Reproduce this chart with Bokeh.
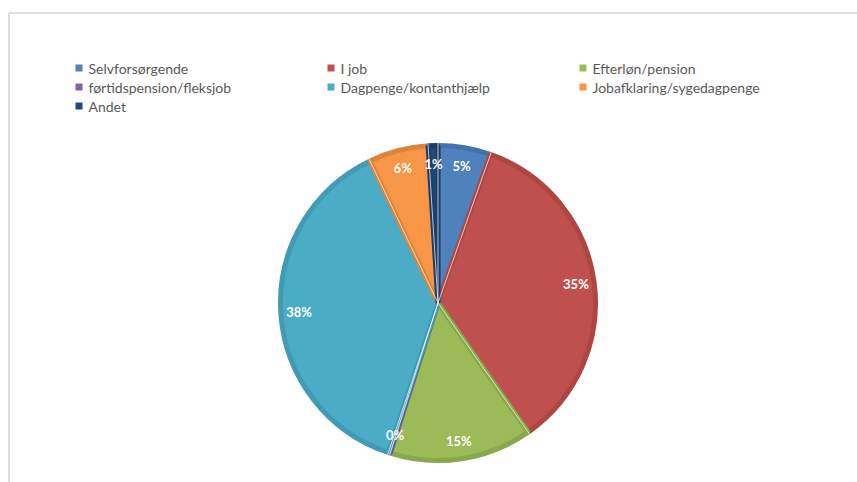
import math
from bokeh.plotting import figure
from bokeh.models import Range1d, ColumnDataSource
from bokeh.core.properties import value
from bokeh.embed import file_html
from bokeh.resources import INLINE

categories = ["Selvforsørgende", "I job", "Efterløn/pension", "førtidspension/fleksjob",
              "Dagpenge/kontanthjælp", "Jobafklaring/sygedagpenge", "Andet"]
shares = [5.4, 34.9, 14.6, 0.2, 37.8, 6.1, 1.0]
colors = ["#4F81BD", "#C0504D", "#9BBB59", "#8064A2", "#4BACC6", "#F79646", "#1F497D"]
border_colors = ["#4373AC", "#AE4744", "#88A84C", "#6E5690", "#409BB3", "#DE853D", "#1A3D69"]

W, H = 857, 482
CX, CY = 437.5, H - 302.5
R = 160
LABEL_R = 0.87 * R

p = figure(width=W, height=H, output_backend="svg", toolbar_location=None,
           x_range=Range1d(0, W), y_range=Range1d(0, H), min_border=0)
p.axis.visible = False
p.grid.visible = False
p.outline_line_color = None
p.background_fill_color = "white"

# chart-area border (top and left visible)
p.line(x=[8.5, 8.5, W + 10], y=[-10, H - 12.5, H - 12.5], line_color="#d6d6d6", line_width=1.6)

total = sum(shares)
starts, ends, mids = [], [], []
cum = 0.0
for s in shares:
    a0 = math.pi / 2 - cum / total * 2 * math.pi
    cum += s
    a1 = math.pi / 2 - cum / total * 2 * math.pi
    starts.append(a0)
    ends.append(a1)
    mids.append((a0 + a1) / 2)

src = ColumnDataSource(dict(start=starts, end=ends, fill=colors, line=border_colors))
p.wedge(x=CX, y=CY, radius=R - 2.5, start_angle="start", end_angle="end", direction="clock",
        fill_color="fill", line_color="line", line_width=5, source=src)

# thin light separators between slices
sx0 = [CX] * len(starts)
sy0 = [CY] * len(starts)
sx1 = [CX + R * math.cos(a) for a in starts]
sy1 = [CY + R * math.sin(a) for a in starts]
p.segment(x0=sx0, y0=sy0, x1=sx1, y1=sy1, line_color="white", line_width=1.0, line_alpha=0.7)

labels = [f"{round(s / total * 100)}%" for s in shares]
lx = [CX + LABEL_R * math.cos(a) for a in mids]
ly = [CY + LABEL_R * math.sin(a) for a in mids]
p.text(x=lx, y=ly, text=labels, text_color="white", text_font=value("Lato"),
       text_font_size="13px", text_font_style="bold", text_align="center",
       text_baseline="middle")

# legend: 3 columns
lmx, lmy, ltx = [], [], []
for i, cat in enumerate(categories):
    col, row = i % 3, i // 3
    mx = 78.5 + col * 252
    my = H - (67.5 + row * 19)
    lmx.append(mx)
    lmy.append(my)
    ltx.append(mx + 9.5)
p.scatter(x=lmx, y=lmy, marker="square", size=7, fill_color=colors, line_color=None)
p.text(x=ltx, y=lmy, text=categories, text_color="#595959", text_font=value("Lato"),
       text_font_size="14px", text_align="left", text_baseline="middle")

open("out.html", "w").write(file_html(p, INLINE))
